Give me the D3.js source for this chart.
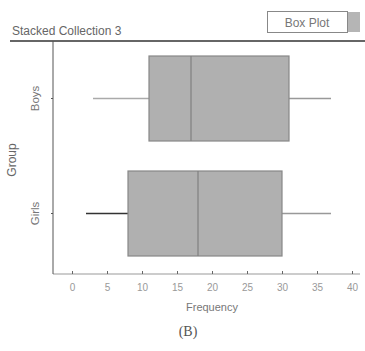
<!DOCTYPE html>
<html>
<head>
<meta charset="utf-8">
<script src="https://cdn.jsdelivr.net/npm/d3@7"></script>
<style>
  body { margin: 0; background: #fff; }
  text { font-family: 'Liberation Sans', Arial, sans-serif; }
</style>
</head>
<body>
<div id="graf"></div>
<script>
const groups = ['Boys', 'Girls']
const mins = [3, 2]
const q1s = [11, 8]
const medians = [17, 18]
const q3s = [31, 30]
const maxs = [37, 37]
const xTicks = [0, 5, 10, 15, 20, 25, 30, 35, 40]

const data = groups.map((g, i) => ({
  group: g, min: mins[i], q1: q1s[i], med: medians[i], q3: q3s[i], max: maxs[i]
}))

const svg = d3.select('#graf').append('svg')
  .attr('width', 365)
  .attr('height', 351)

const margin = { top: 41, left: 53, bottom: 274, right: 365 }

const x = d3.scaleLinear()
  .domain([0, 40])
  .range([72, 352])

const y = d3.scaleBand()
  .domain(groups)
  .range([41, 271])

// title + rule
svg.append('text')
  .attr('x', 12).attr('y', 35)
  .attr('font-size', 12)
  .attr('fill', '#666')
  .text('Stacked Collection 3')

svg.append('line')
  .attr('x1', 10).attr('x2', 365)
  .attr('y1', 41).attr('y2', 41)
  .attr('stroke', '#333').attr('stroke-width', 1.3)

// button
svg.append('rect')
  .attr('x', 267.5).attr('y', 11.5)
  .attr('width', 80).attr('height', 21)
  .attr('fill', '#fff').attr('stroke', '#888')
svg.append('rect')
  .attr('x', 348).attr('y', 12)
  .attr('width', 12).attr('height', 20)
  .attr('fill', '#b5b5b5')
svg.append('text')
  .attr('x', 307).attr('y', 27)
  .attr('text-anchor', 'middle')
  .attr('font-size', 12)
  .attr('fill', '#777')
  .text('Box Plot')

// axes
svg.append('g')
  .attr('transform', `translate(0, ${margin.bottom})`)
  .call(d3.axisBottom(x).tickValues(xTicks).tickSize(3).tickSizeOuter(0))
  .call(g => g.select('.domain').attr('d', `M${margin.left},0H360`).attr('stroke', '#999'))
  .call(g => g.selectAll('.tick line').attr('stroke', '#666').attr('y2', -3))
  .call(g => g.selectAll('.tick text').attr('y', 10).attr('font-size', 10).attr('fill', '#999')
    .attr('font-family', "'Liberation Sans', Arial, sans-serif"))

svg.append('g')
  .attr('transform', `translate(${margin.left}, 0)`)
  .call(d3.axisLeft(y).tickSize(2).tickSizeOuter(0))
  .call(g => g.select('.domain').attr('d', `M0,41V${margin.bottom}`).attr('stroke', '#555'))
  .call(g => g.selectAll('.tick line').attr('stroke', '#555'))
  .call(g => g.selectAll('.tick text')
    .attr('transform', 'rotate(-90)')
    .attr('x', 0).attr('y', -14)
    .attr('dy', 0)
    .attr('text-anchor', 'middle')
    .attr('font-size', 11.5).attr('fill', '#777')
    .attr('font-family', "'Liberation Sans', Arial, sans-serif"))

svg.append('text')
  .attr('transform', 'translate(16, 160) rotate(-90)')
  .attr('text-anchor', 'middle')
  .attr('font-size', 12)
  .attr('fill', '#666')
  .text('Group')

svg.append('text')
  .attr('x', 212).attr('y', 311)
  .attr('text-anchor', 'middle')
  .attr('font-size', 11)
  .attr('fill', '#777')
  .text('Frequency')

svg.append('text')
  .attr('x', 188).attr('y', 336)
  .attr('text-anchor', 'middle')
  .attr('font-size', 14)
  .style('font-family', "'Liberation Serif', 'DejaVu Serif', serif")
  .attr('fill', '#555')
  .text('(B)')

// boxes
const boxH = 85
const bx = svg.append('g').selectAll('g').data(data).join('g')
  .attr('transform', d => `translate(0, ${y(d.group) + y.bandwidth() / 2})`)

bx.append('line')
  .attr('x1', d => x(d.min)).attr('x2', d => x(d.q1))
  .attr('stroke', (d, i) => i === 0 ? '#aaa' : '#333')
  .attr('stroke-width', 1.3)
bx.append('line')
  .attr('x1', d => x(d.q3)).attr('x2', d => x(d.max))
  .attr('stroke', '#999')
  .attr('stroke-width', 1.3)
bx.append('rect')
  .attr('x', d => x(d.q1))
  .attr('y', -boxH / 2)
  .attr('width', d => x(d.q3) - x(d.q1))
  .attr('height', boxH)
  .attr('fill', '#b0b0b0')
  .attr('stroke', '#888')
  .attr('stroke-width', 1.2)
bx.append('line')
  .attr('x1', d => x(d.med)).attr('x2', d => x(d.med))
  .attr('y1', -boxH / 2).attr('y2', boxH / 2)
  .attr('stroke', '#808080')
  .attr('stroke-width', 1.2)
</script>
</body>
</html>
